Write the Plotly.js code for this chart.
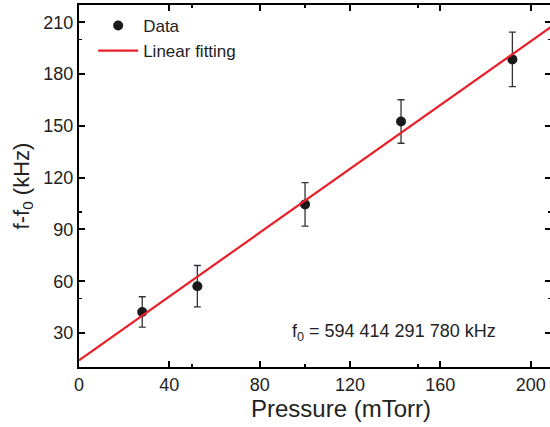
<!DOCTYPE html>
<html>
<head>
<meta charset="utf-8">
<script src="https://cdn.plot.ly/plotly-3.0.1.min.js"></script>
<style>
html,body{margin:0;padding:0;overflow:hidden;background:#fff;}
#chart{width:553px;height:427px;}
</style>
</head>
<body>
<div id="chart"></div>
<script>
const pressure = [28.0, 52.4, 100.1, 142.6, 191.9];
const shift = [42.2, 57.1, 104.5, 152.5, 188.5];
const shiftErr = [8.8, 12.0, 12.6, 12.6, 15.8];
const fitX = [0, 210];
const fitY = [14.2, 208.2];
const xTicks = [0, 40, 80, 120, 160, 200];
const yTicks = [30, 60, 90, 120, 150, 180, 210];

const fontFam = 'Arial, "Liberation Sans", sans-serif';

const traces = [
  {
    x: pressure, y: shift, type: 'scatter', mode: 'markers', name: 'Data',
    marker: {color: '#1a1a1a', size: 10},
    error_y: {type: 'data', array: shiftErr, visible: true, color: '#333333', thickness: 1.3, width: 3.5}
  },
  {
    x: fitX, y: fitY, type: 'scatter', mode: 'lines', name: 'Linear fitting',
    line: {color: '#e8202a', width: 2.2}
  }
];

const axisCommon = {
  showline: true, linecolor: '#000', linewidth: 2, mirror: 'ticks',
  ticks: 'inside', ticklen: 6, tickwidth: 2, tickcolor: '#000',
  showgrid: false, zeroline: false,
  tickfont: {family: fontFam, size: 18, color: '#222'},
  minor: {ticks: 'inside', ticklen: 3, tickwidth: 1.5, tickcolor: '#000', nticks: 2, showgrid: false}
};

const layout = {
  width: 553, height: 427,
  margin: {l: 79, r: 2, t: 5, b: 60},
  paper_bgcolor: '#fff', plot_bgcolor: '#fff',
  showlegend: true,
  legend: {x: 0.03, y: 0.992, xanchor: 'left', yanchor: 'top', bgcolor: 'rgba(0,0,0,0)',
           font: {family: fontFam, size: 17, color: '#222'}, itemwidth: 40, tracegroupgap: 0},
  xaxis: Object.assign({}, axisCommon, {
    range: [0, 209], tickvals: xTicks
  }),
  yaxis: Object.assign({}, axisCommon, {
    range: [10.3, 220], tickvals: yTicks,
    title: {text: 'f-f<sub>0</sub> (kHz)', font: {family: fontFam, size: 22, color: '#222'}, standoff: 8}
  }),
  annotations: [
    {
      xref: 'x', yref: 'y', x: 93.4, y: 30, xanchor: 'left', yanchor: 'middle', showarrow: false,
      text: 'f<sub>0</sub> = 594 414 291 780 kHz',
      font: {family: fontFam, size: 18, color: '#222'}
    },
    {
      xref: 'paper', yref: 'paper', x: 0.556, y: -0.116, xanchor: 'center', yanchor: 'middle', showarrow: false,
      text: 'Pressure (mTorr)',
      font: {family: fontFam, size: 24, color: '#222'}
    }
  ]
};

Plotly.newPlot('chart', traces, layout, {displayModeBar: false, staticPlot: true});
</script>
</body>
</html>
